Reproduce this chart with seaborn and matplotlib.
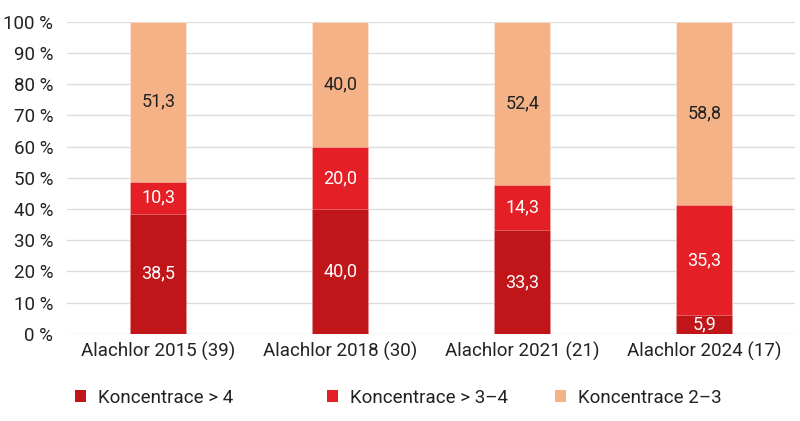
import matplotlib
matplotlib.use("Agg")
import matplotlib.pyplot as plt
import seaborn as sns
import pandas as pd
import numpy as np
from matplotlib.patches import Patch

categories = ["Alachlor 2015 (39)", "Alachlor 2018 (30)", "Alachlor 2021 (21)", "Alachlor 2024 (17)"]
series_names = ["Koncentrace > 4", "Koncentrace > 3\u20134", "Koncentrace 2\u20133"]
conc_gt4 = [38.5, 40.0, 33.3, 5.9]
conc_3_4 = [10.3, 20.0, 14.3, 35.3]
conc_2_3 = [51.3, 40.0, 52.4, 58.8]
y_ticks = [0, 10, 20, 30, 40, 50, 60, 70, 80, 90, 100]

colors = ["#C0161A", "#E41F26", "#F4B286"]
label_colors = ["white", "white", "#222222"]

sns.set_theme(style="white")
plt.rcParams['font.family'] = ['Roboto', 'DejaVu Sans']

fig = plt.figure(figsize=(8, 4.21), dpi=100)
ax = fig.add_axes([0.084, 0.207, 0.910, 0.741])

vals = [conc_gt4, conc_3_4, conc_2_3]
cum = np.cumsum(np.array(vals), axis=0)
for i in reversed(range(3)):
    df = pd.DataFrame({"cat": categories, "val": cum[i]})
    sns.barplot(data=df, x="cat", y="val", color=colors[i], width=0.31,
                ax=ax, edgecolor=(1, 1, 1, 0.35), linewidth=0.6, saturation=1)

for j, cat in enumerate(categories):
    b = 0
    for i in range(3):
        v = vals[i][j]
        ax.text(j, b + v / 2, f"{v:.1f}".replace(".", ","), ha="center", va="center",
                fontsize=13, color=label_colors[i])
        b += v

ax.set_ylim(0, 100)
ax.set_xlim(-0.5, 3.5)
ax.set_yticks(y_ticks)
ax.set_yticklabels([f"{t} %" for t in y_ticks], fontsize=13.5, color="#222222")
ax.tick_params(axis="x", labelsize=13.5, colors="#222222", length=0, pad=6)
ax.tick_params(axis="y", length=0, pad=10)
ax.set_xlabel("")
ax.set_ylabel("")
ax.yaxis.grid(True, color="#DCDCDC", linewidth=1)
ax.set_axisbelow(True)
for s in ax.spines.values():
    s.set_visible(False)

legend_x = [0.094, 0.409, 0.694]
for name, c, x in zip(series_names, colors, legend_x):
    leg = fig.legend(handles=[Patch(facecolor=c, edgecolor="none")], labels=[name],
                     loc="center left", bbox_to_anchor=(x, 0.055), frameon=False,
                     fontsize=13.5, handlelength=0.6, handleheight=0.6, handletextpad=0.6,
                     borderaxespad=0, borderpad=0)
    for t in leg.get_texts():
        t.set_color("#222222")

fig.savefig("out.png", dpi=100)
